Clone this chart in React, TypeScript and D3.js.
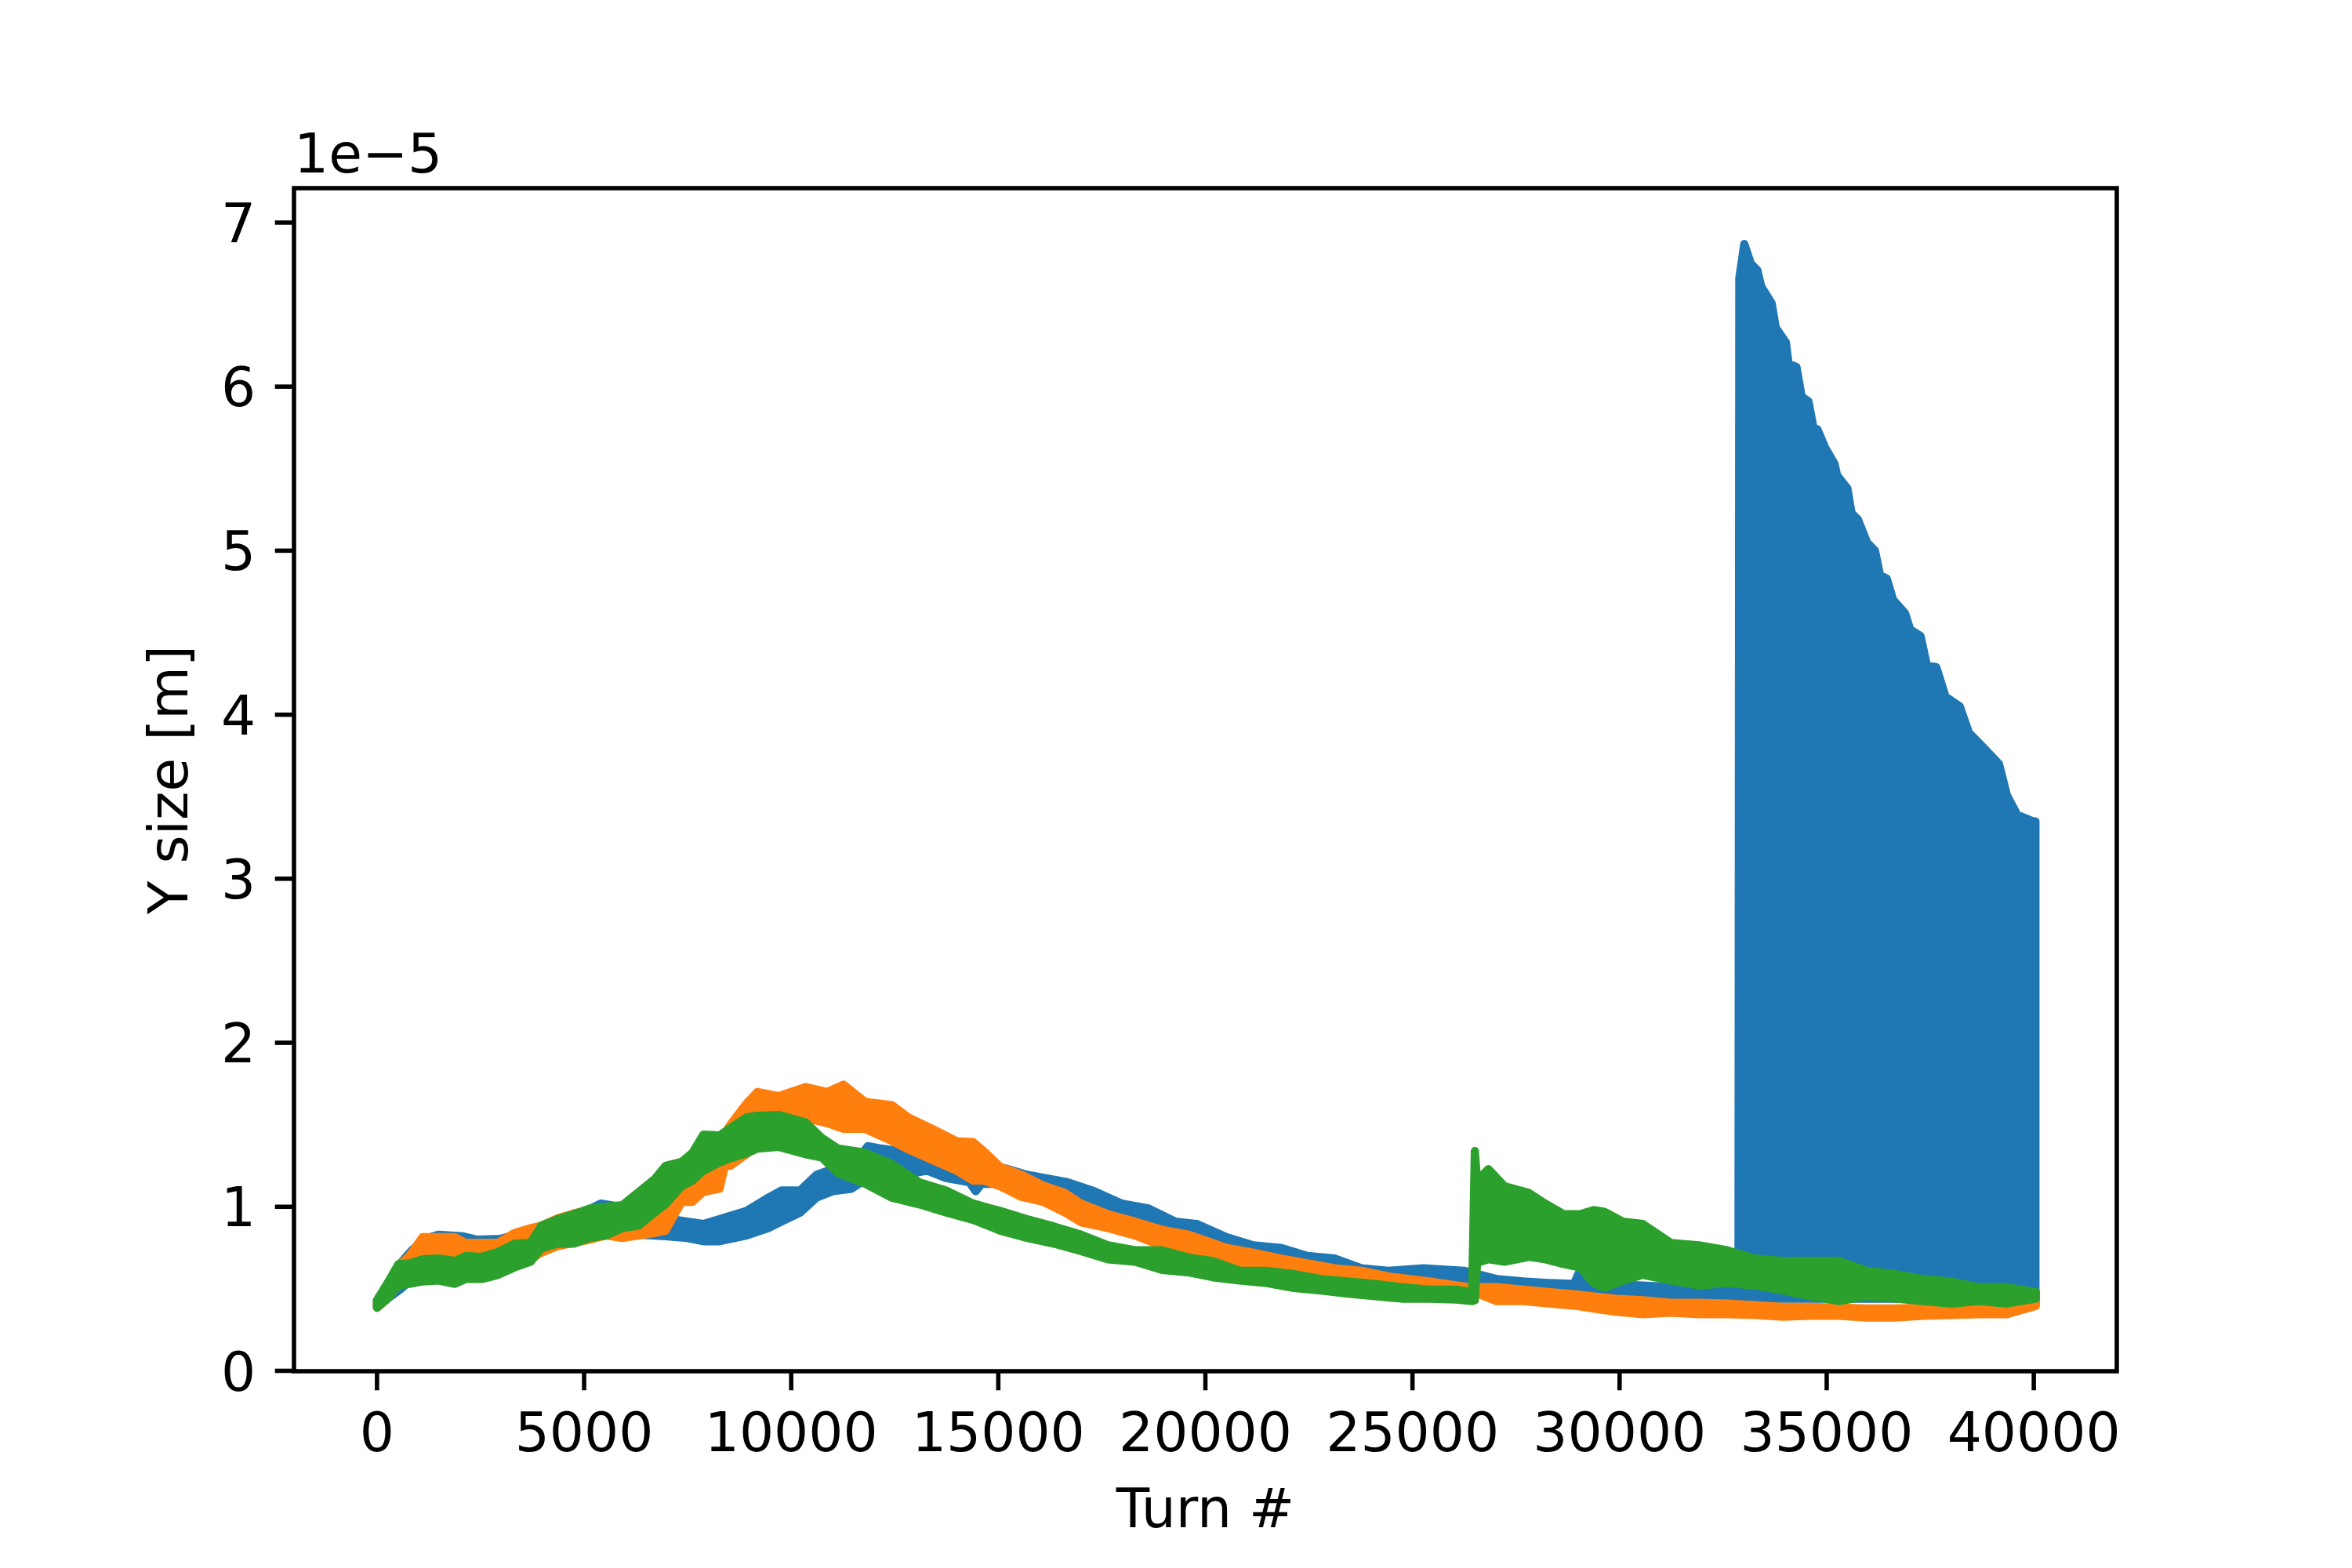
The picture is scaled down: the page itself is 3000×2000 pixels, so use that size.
import React from 'react';
import * as d3 from 'd3';

// Values are in units of 1e-5 m (the axis offset shown as "1e−5").
// Each series is a fast-oscillating trace; it is stored as its read-off
// lower and upper envelope at a set of turns.

const blueTurns = [0, 254, 580, 840, 1166, 1492, 2078, 2404, 2990, 3500, 4000, 4359, 5000, 5400, 5900, 6300, 6966, 7487, 7878, 8269, 8921, 9443, 9768, 10219, 10610, 11001, 11457, 11848, 12174, 12630, 13282, 13738, 14300, 14455, 14600, 15172, 15693, 16671, 17322, 17974, 18626, 19278, 19799, 20510, 21161, 21813, 22465, 23117, 23768, 24420, 25267, 26245, 27027, 27678, 28330, 28900, 29000, 29100, 29634, 30564, 31240, 31915, 32592, 32870,
  32890, 33010, 33170, 33326, 33420, 33670, 33770, 34015, 34080, 34270, 34395, 34560, 34680, 34775, 34960, 35190, 35250, 35500, 35600, 35755, 35975, 36165, 36290, 36450, 36605, 36890, 37015, 37265, 37420, 37645, 37870, 38215, 38435, 38785, 39160, 39350, 39600, 39980, 40040];
const blueHigh = [0.43, 0.53, 0.66, 0.735, 0.805, 0.83, 0.82, 0.80, 0.805, 0.84, 0.88, 0.92, 0.97, 1.02, 1.0, 0.98, 0.93, 0.91, 0.895, 0.925, 0.975, 1.055, 1.10, 1.10, 1.195, 1.23, 1.245, 1.37, 1.355, 1.34, 1.31, 1.245, 1.24, 1.355, 1.24, 1.235, 1.195, 1.15, 1.095, 1.02, 0.99, 0.91, 0.895, 0.815, 0.765, 0.75, 0.70, 0.685, 0.625, 0.61, 0.625, 0.61, 0.56, 0.545, 0.535, 0.53, 0.59, 0.53, 0.53, 0.52, 0.51, 0.50, 0.49, 0.48,
  6.66, 6.87, 6.75, 6.71, 6.61, 6.51, 6.36, 6.27, 6.14, 6.12, 5.94, 5.91, 5.75, 5.74, 5.63, 5.53, 5.46, 5.38, 5.23, 5.19, 5.05, 5.00, 4.85, 4.83, 4.70, 4.62, 4.52, 4.48, 4.30, 4.29, 4.11, 4.05, 3.89, 3.80, 3.70, 3.51, 3.39, 3.35, 3.35];
const blueLow = [0.385, 0.44, 0.50, 0.56, 0.60, 0.60, 0.60, 0.61, 0.63, 0.66, 0.745, 0.76, 0.80, 0.83, 0.84, 0.83, 0.82, 0.81, 0.79, 0.79, 0.825, 0.87, 0.91, 0.965, 1.055, 1.095, 1.11, 1.175, 1.205, 1.19, 1.22, 1.175, 1.15, 1.095, 1.14, 1.14, 1.09, 1.06, 1.0, 0.935, 0.905, 0.84, 0.825, 0.76, 0.71, 0.68, 0.65, 0.615, 0.585, 0.57, 0.55, 0.535, 0.505, 0.49, 0.49, 0.48, 0.48, 0.48, 0.475, 0.455, 0.45, 0.44, 0.435, 0.43,
  0.43, 0.43, 0.44, 0.44, 0.44, 0.44, 0.44, 0.44, 0.44, 0.44, 0.44, 0.44, 0.44, 0.44, 0.44, 0.44, 0.44, 0.44, 0.44, 0.44, 0.44, 0.44, 0.44, 0.44, 0.44, 0.44, 0.44, 0.44, 0.44, 0.44, 0.44, 0.44, 0.44, 0.45, 0.45, 0.45, 0.46, 0.46, 0.46];

const orangeTurns = [0, 254, 515, 775, 1100, 1492, 1883, 2143, 2535, 2926, 3317, 3708, 3968, 4359, 4750, 5141, 5532, 5923, 6314, 6705, 6966, 7357, 7618, 7878, 8269, 8400, 8530, 8921, 9182, 9703, 10350, 10870, 11262, 11783, 12435, 12826, 13412, 13999, 14390, 14650, 15042, 15563, 16085, 16606, 16997, 17648, 18300, 18952, 19604, 20510, 21161, 21813, 22465, 23117, 23768, 24420, 25397, 26375, 27027, 27678, 28330, 28982, 29888, 30564, 31240, 31915, 32592, 33268, 33943, 34619, 35295, 35971, 36647, 37323, 37999, 38675, 39351, 40050];
const orangeHigh = [0.43, 0.53, 0.64, 0.70, 0.815, 0.815, 0.815, 0.78, 0.78, 0.78, 0.84, 0.87, 0.885, 0.93, 0.96, 0.98, 0.98, 0.98, 1.0, 1.05, 1.10, 1.25, 1.28, 1.35, 1.40, 1.45, 1.50, 1.63, 1.70, 1.675, 1.73, 1.70, 1.745, 1.64, 1.62, 1.545, 1.475, 1.40, 1.395, 1.34, 1.245, 1.195, 1.13, 1.085, 1.02, 0.955, 0.91, 0.86, 0.83, 0.75, 0.72, 0.685, 0.655, 0.625, 0.61, 0.575, 0.545, 0.51, 0.51, 0.495, 0.48, 0.465, 0.44, 0.43, 0.415, 0.415, 0.41, 0.40, 0.39, 0.39, 0.385, 0.38, 0.38, 0.385, 0.39, 0.40, 0.415, 0.45];
const orangeLow = [0.385, 0.44, 0.52, 0.55, 0.60, 0.60, 0.60, 0.60, 0.61, 0.62, 0.65, 0.68, 0.72, 0.76, 0.78, 0.80, 0.825, 0.81, 0.825, 0.84, 0.855, 1.03, 1.03, 1.09, 1.11, 1.25, 1.25, 1.32, 1.38, 1.45, 1.54, 1.51, 1.475, 1.475, 1.40, 1.35, 1.285, 1.22, 1.16, 1.16, 1.125, 1.06, 1.03, 0.965, 0.905, 0.87, 0.825, 0.76, 0.73, 0.665, 0.65, 0.615, 0.585, 0.57, 0.55, 0.535, 0.505, 0.49, 0.425, 0.425, 0.41, 0.395, 0.36, 0.345, 0.355, 0.345, 0.345, 0.34, 0.33, 0.335, 0.335, 0.325, 0.325, 0.335, 0.34, 0.345, 0.345, 0.395];

const greenTurns = [0, 254, 515, 775, 1100, 1492, 1883, 2143, 2535, 2926, 3317, 3708, 3968, 4359, 4750, 5141, 5532, 5923, 6314, 6705, 6966, 7357, 7618, 7878, 8269, 8530, 8921, 9182, 9703, 10350, 10740, 11131, 11783, 12435, 13087, 13738, 14390, 15042, 15693, 16345, 16997, 17648, 18300, 18952, 19604, 20184, 20835, 21487, 22139, 22791, 23442, 24094, 24746, 25397, 26049, 26440, 26505, 26560, 26831, 27223, 27809, 28200, 28656, 29047, 29373, 29634, 30077, 30564, 31240, 31915, 32592, 33268, 33943, 34619, 35295, 35971, 36647, 37323, 37999, 38675, 39351, 40050];
const greenHigh = [0.43, 0.535, 0.65, 0.655, 0.68, 0.685, 0.67, 0.70, 0.695, 0.725, 0.775, 0.78, 0.885, 0.925, 0.955, 0.99, 1.0, 1.01, 1.09, 1.17, 1.25, 1.275, 1.33, 1.44, 1.435, 1.48, 1.545, 1.555, 1.56, 1.515, 1.42, 1.355, 1.33, 1.26, 1.15, 1.10, 1.02, 0.975, 0.925, 0.88, 0.83, 0.765, 0.735, 0.735, 0.69, 0.67, 0.61, 0.61, 0.59, 0.56, 0.545, 0.53, 0.51, 0.495, 0.495, 0.48, 1.34, 1.16, 1.23, 1.125, 1.085, 1.02, 0.955, 0.955, 0.98, 0.97, 0.91, 0.895, 0.78, 0.765, 0.735, 0.685, 0.67, 0.67, 0.67, 0.61, 0.59, 0.56, 0.545, 0.51, 0.51, 0.48];
const greenLow = [0.385, 0.44, 0.52, 0.53, 0.545, 0.55, 0.53, 0.56, 0.56, 0.585, 0.63, 0.665, 0.745, 0.775, 0.775, 0.81, 0.825, 0.87, 0.885, 0.965, 1.015, 1.125, 1.16, 1.22, 1.27, 1.295, 1.325, 1.355, 1.365, 1.32, 1.30, 1.205, 1.14, 1.055, 1.015, 0.965, 0.92, 0.855, 0.81, 0.775, 0.73, 0.68, 0.665, 0.615, 0.60, 0.57, 0.55, 0.535, 0.505, 0.49, 0.47, 0.455, 0.44, 0.44, 0.435, 0.425, 0.43, 0.66, 0.68, 0.665, 0.695, 0.68, 0.65, 0.63, 0.535, 0.505, 0.55, 0.585, 0.55, 0.52, 0.535, 0.52, 0.49, 0.455, 0.425, 0.455, 0.44, 0.425, 0.41, 0.425, 0.41, 0.44];

const xTicks = [0, 5000, 10000, 15000, 20000, 25000, 30000, 35000, 40000];
const yTicks = [0, 1, 2, 3, 4, 5, 6, 7];
const offsetLabel = '1e\u22125';
const xLabel = 'Turn #';
const yLabel = 'Y size [m]';

const series = [
  { name: 'blue', color: '#1f77b4', turns: blueTurns, low: blueLow, high: blueHigh },
  { name: 'orange', color: '#ff7f0e', turns: orangeTurns, low: orangeLow, high: orangeHigh },
  { name: 'green', color: '#2ca02c', turns: greenTurns, low: greenLow, high: greenHigh },
];

const W = 3000;
const H = 2000;
const L = 375, R = 2700, T = 240, B = 1749;
const FONT = '"DejaVu Sans", sans-serif';
const FS = 69.44;
const LW = 10.4;
const SPINE = 5.56;
const TICK = 24.3;

export default function App() {
  const x = d3.scaleLinear().domain([-2004, 42004]).range([L, R]);
  const y = d3.scaleLinear().domain([0, 7.21]).range([B - 0.5, T]);

  const area = d3
    .area<{ t: number; lo: number; hi: number }>()
    .x((d) => x(d.t))
    .y0((d) => y(d.lo))
    .y1((d) => y(d.hi))
    .curve(d3.curveLinear);

  return (
    <svg
      width={W}
      height={H}
      viewBox={`0 0 ${W} ${H}`}
      style={{ position: 'absolute', left: 0, top: 0, background: '#fff' }}
    >
      <rect x={0} y={0} width={W} height={H} fill="#fff" />
      <defs>
        <clipPath id="plotclip">
          <rect x={L} y={T} width={R - L} height={B - T} />
        </clipPath>
      </defs>
      <g clipPath="url(#plotclip)">
        {series.map((s) => {
          const pts = s.turns.map((t, i) => ({ t, lo: s.low[i], hi: s.high[i] }));
          const d = area(pts) || '';
          return (
            <path
              key={s.name}
              d={d}
              fill={s.color}
              stroke={s.color}
              strokeWidth={LW}
              strokeLinejoin="round"
              strokeLinecap="round"
            />
          );
        })}
      </g>
      {/* spines */}
      <rect x={L} y={T} width={R - L} height={B - T} fill="none" stroke="#000" strokeWidth={SPINE} strokeLinejoin="miter" />
      {/* x ticks */}
      {xTicks.map((t) => (
        <g key={'xt' + t}>
          <line x1={x(t)} x2={x(t)} y1={B} y2={B + TICK} stroke="#000" strokeWidth={SPINE} />
          <text x={x(t)} y={1851} textAnchor="middle" fontFamily={FONT} fontSize={FS} fill="#000">
            {String(t)}
          </text>
        </g>
      ))}
      {/* y ticks */}
      {yTicks.map((v) => (
        <g key={'yt' + v}>
          <line x1={L - TICK} x2={L} y1={y(v)} y2={y(v)} stroke="#000" strokeWidth={SPINE} />
          <text x={L - TICK - 24.5} y={y(v) + 25} textAnchor="end" fontFamily={FONT} fontSize={FS} fill="#000">
            {String(v)}
          </text>
        </g>
      ))}
      <text x={L} y={220} fontFamily={FONT} fontSize={FS} fill="#000">
        {offsetLabel}
      </text>
      <text x={(L + R) / 2} y={1948} textAnchor="middle" fontFamily={FONT} fontSize={FS} fill="#000">
        {xLabel}
      </text>
      <text
        transform={`translate(239, ${(T + B) / 2}) rotate(-90)`}
        textAnchor="middle"
        fontFamily={FONT}
        fontSize={FS}
        fill="#000"
      >
        {yLabel}
      </text>
    </svg>
  );
}
